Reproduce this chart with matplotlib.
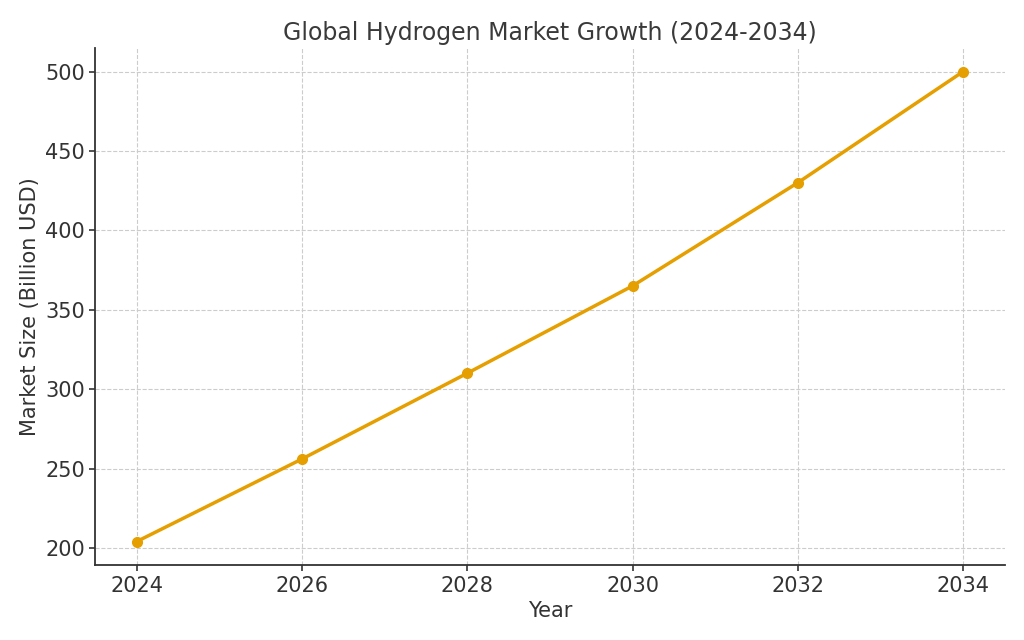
import matplotlib
matplotlib.use("Agg")
from matplotlib import pyplot as plt

years = [2024, 2026, 2028, 2030, 2032, 2034]
market_size = [204, 256, 310, 365, 430, 500]

LINE_COLOR = "#E69F00"
TEXT_COLOR = "#333333"


def plot_market_growth(save_path):
    fig, ax = plt.subplots(figsize=(10.24, 6.4), dpi=100)
    ax.plot(years, market_size, marker="o", color=LINE_COLOR, linewidth=2.5, markersize=7)

    ax.set_title("Global Hydrogen Market Growth (2024-2034)", fontsize=17, color="#3a3a3a", pad=6)
    ax.set_xlabel("Year", fontsize=15, color=TEXT_COLOR)
    ax.set_ylabel("Market Size (Billion USD)", fontsize=15, color=TEXT_COLOR)
    ax.set_xticks(years)
    ax.set_yticks(range(200, 501, 50))
    ax.tick_params(labelsize=15, colors=TEXT_COLOR, width=1.2, length=4)
    ax.grid(True, linestyle="--", color="#cccccc", linewidth=0.8)

    for side in ("top", "right"):
        ax.spines[side].set_visible(False)
    for side in ("left", "bottom"):
        ax.spines[side].set_color(TEXT_COLOR)
        ax.spines[side].set_linewidth(1.3)

    fig.subplots_adjust(left=0.093, right=0.981, top=0.925, bottom=0.117)
    fig.savefig(save_path)


if __name__ == "__main__":
    plot_market_growth("out.png")
